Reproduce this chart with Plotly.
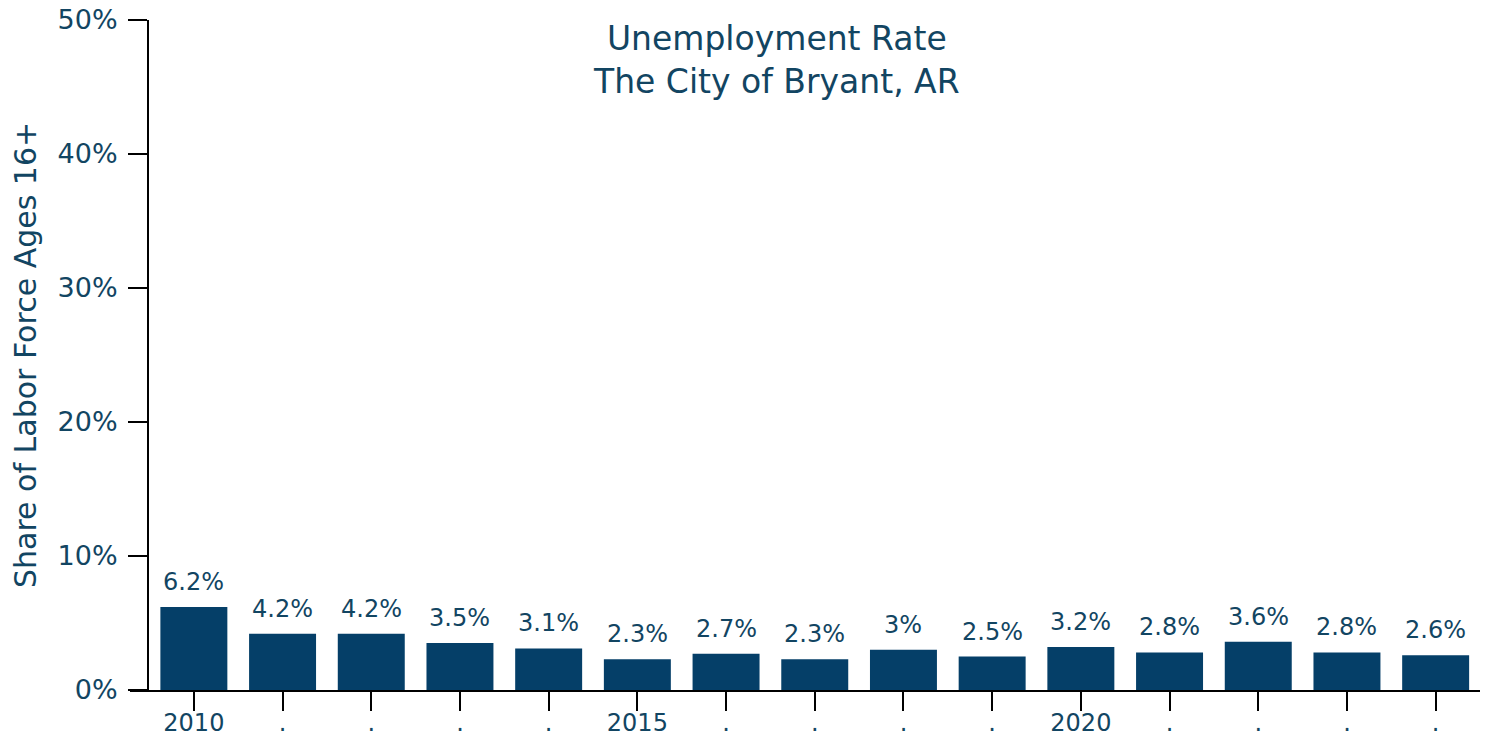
import plotly.graph_objects as go

years = list(range(2010, 2025))
rates = [6.2, 4.2, 4.2, 3.5, 3.1, 2.3, 2.7, 2.3, 3.0, 2.5, 3.2, 2.8, 3.6, 2.8, 2.6]
rate_labels = ["6.2%", "4.2%", "4.2%", "3.5%", "3.1%", "2.3%", "2.7%", "2.3%", "3%",
               "2.5%", "3.2%", "2.8%", "3.6%", "2.8%", "2.6%"]
tick_text = ["2010", ".", ".", ".", ".", "2015", ".", ".", ".", ".", "2020", ".", ".", ".", "."]
y_ticks = [0, 10, 20, 30, 40, 50]
y_tick_text = ["0%", "10%", "20%", "30%", "40%", "50%"]

BAR = "#053f68"
TEXT = "#124562"
FONT = "DejaVu Sans"

fig = go.Figure()
fig.add_trace(go.Bar(x=years, y=rates, marker=dict(color=BAR, line=dict(width=0)),
                     hoverinfo="skip"))

# value labels above each bar
for yr, v, lab in zip(years, rates, rate_labels):
    fig.add_annotation(x=yr, y=v, text=lab, showarrow=False, yanchor="bottom",
                       yshift=9, font=dict(family=FONT, size=24, color=TEXT))

fig.update_layout(
    width=1487, height=740,
    margin=dict(l=130, r=7, t=20, b=50),
    paper_bgcolor="white", plot_bgcolor="white",
    bargap=0.245,
    showlegend=False,
    font=dict(family=FONT, color=TEXT),
    xaxis=dict(range=[2010 - 0.72, 2024.5], tickvals=years, ticktext=tick_text,
               showline=True, linecolor="black", linewidth=2,
               ticks="outside", ticklen=19, tickwidth=2, tickcolor="black",
               ticklabelstandoff=-9,
               showgrid=False, zeroline=False, automargin=False,
               tickfont=dict(family=FONT, size=24, color=TEXT)),
    yaxis=dict(range=[0, 50], tickvals=y_ticks, ticktext=y_tick_text,
               anchor="free", position=18 / 1350,
               showline=True, linecolor="black", linewidth=2,
               ticks="outside", ticklen=19, tickwidth=2, tickcolor="black",
               ticklabelstandoff=5,
               showgrid=False, zeroline=False, automargin=False,
               tickfont=dict(family=FONT, size=27, color=TEXT)),
)

# y-axis title
fig.add_annotation(xref="paper", yref="paper", x=(25 - 130) / 1350, y=0.5,
                   xanchor="center", yanchor="middle", textangle=-90,
                   text="Share of Labor Force Ages 16+", showarrow=False,
                   font=dict(family=FONT, size=30, color=TEXT))

# chart title
fig.add_annotation(xref="paper", yref="paper", x=(776 - 130) / 1350, y=1,
                   yanchor="top", yshift=3,
                   text="Unemployment Rate<br>The City of Bryant, AR", showarrow=False,
                   font=dict(family=FONT, size=33, color=TEXT))

fig.write_html("out.html")
